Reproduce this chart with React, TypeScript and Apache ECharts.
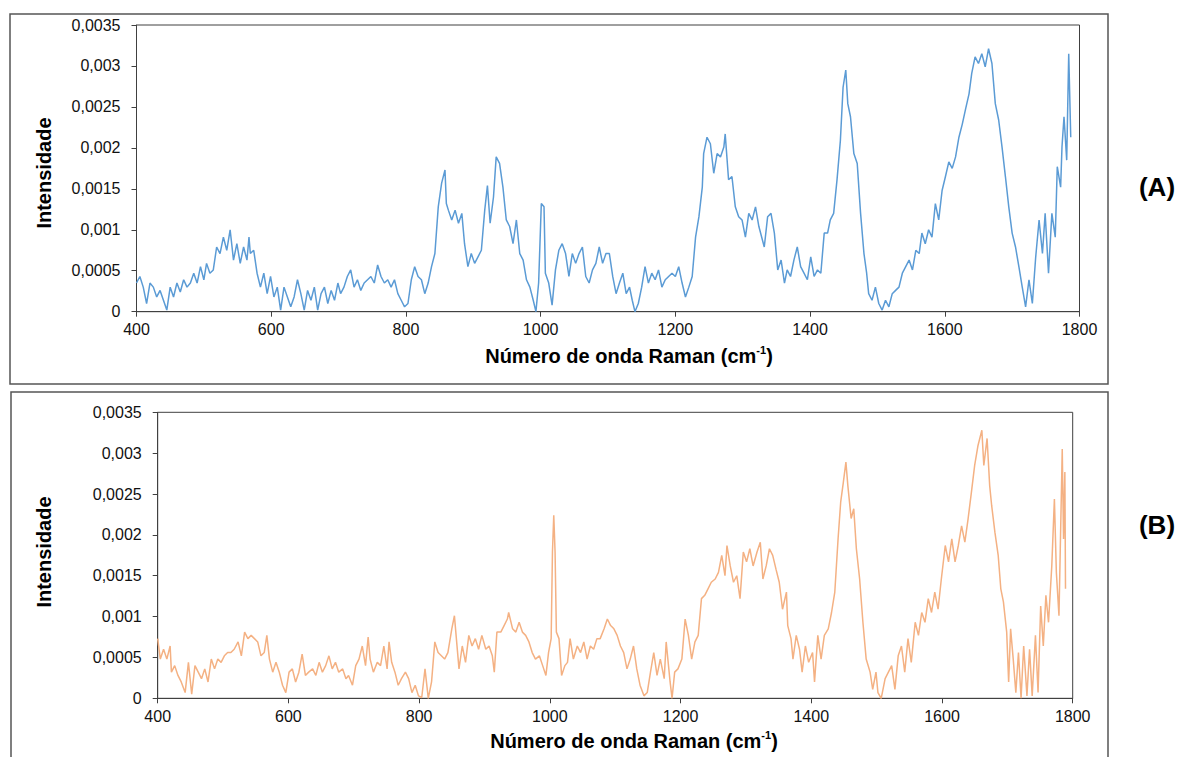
import React, { useEffect, useRef } from "react";
import * as echarts from "echarts";

// Intensity values are listed in units of 1e-4 (e.g. 3.5 => 0.00035)
const spectrumA: [number, number][] = [
  [400,3.5],[405,4.3],[410,3.0],[415,1.0],[420,3.5],[425,3.0],[430,1.8],[435,2.6],[440,1.4],[445,0.2],[450,3.0],[455,1.8],[460,3.5],[465,2.4],[470,3.9],[475,3.0],[480,3.5],[485,4.7],[490,3.5],[495,5.5],[500,3.9],[504,5.9],[509,4.7],[514,5.1],[519,7.9],[524,7.1],[529,9.1],[534,7.5],[539,10.0],[544,6.3],[549,8.3],[554,5.9],[559,7.9],[564,6.3],[567,9.1],[569,7.1],[574,7.5],[579,4.7],[584,3.0],[589,4.7],[594,2.2],[599,4.3],[604,1.8],[609,3.0],[614,0.2],[619,3.0],[624,1.8],[629,0.6],[634,1.8],[639,3.9],[644,2.2],[649,0.2],[654,2.6],[659,1.4],[664,3.0],[669,0.2],[674,2.2],[679,3.0],[684,1.0],[689,2.6],[694,1.4],[699,3.5],[703,2.2],[708,3.0],[713,4.3],[718,5.1],[723,3.0],[728,3.9],[733,2.6],[738,3.5],[743,3.9],[748,4.3],[753,3.5],[758,5.7],[763,4.3],[768,3.5],[773,3.9],[778,3.0],[783,3.9],[788,2.2],[793,1.4],[798,0.6],[803,1.0],[808,3.9],[813,5.5],[818,4.3],[823,3.9],[828,2.2],[833,3.5],[838,5.5],[843,7.1],[848,12.8],[853,15.7],[858,17.3],
  [860,13.2],[863,12.4],[868,11.2],[873,12.4],[878,10.8],[883,12.0],[887,8.3],[892,5.5],[897,7.1],[902,5.9],[907,6.7],[912,7.5],[917,12.4],[921,15.4],[925,10.8],[930,14.0],[934,18.9],[939,18.1],[944,15.2],[949,11.2],[954,10.4],[959,8.3],[964,11.2],[969,7.1],[974,6.3],[979,3.9],[984,3.0],[989,1.4],[993,0],[997,3.5],[1001,13.2],[1005,12.8],[1007,4.7],[1012,3.5],[1017,0.8],[1022,5.1],[1027,7.5],[1032,8.3],[1037,7.1],[1042,4.3],[1047,7.1],[1052,5.9],[1057,7.1],[1062,7.9],[1067,4.3],[1072,3.5],[1077,5.1],[1082,5.9],[1087,7.9],[1092,5.9],[1097,7.1],[1102,7.1],[1107,4.3],[1112,2.2],[1117,3.5],[1122,4.7],[1127,2.2],[1132,3.0],[1136,1.4],[1140,0],[1145,1.0],[1150,3.0],[1155,5.5],[1160,3.5],[1165,4.7],[1170,3.9],[1175,5.1],[1180,3.0],[1185,3.9],[1190,4.3],[1195,4.7],[1200,4.3],[1205,5.5],[1210,3.5],[1215,1.8],[1220,3.0],[1225,4.3],[1230,9.1],[1235,11.6],[1240,15.2],[1242,19.3],[1247,21.3],[1252,20.5],[1257,16.9],[1262,19.3],[1267,18.9],[1272,20.1],[1274,21.7],[1279,16.1],[1284,16.5],[1289,12.8],[1294,11.6],[1299,11.2],[1304,9.1],[1309,12.0],[1314,11.2],[1319,12.8],[1324,10.4],
  [1332,7.9],[1337,11.6],[1342,12.0],[1347,9.6],[1352,5.1],[1357,6.3],[1362,3.5],[1366,5.1],[1371,4.3],[1376,6.3],[1381,7.9],[1386,5.5],[1391,4.7],[1396,3.9],[1401,6.7],[1406,4.3],[1411,5.1],[1416,4.7],[1421,9.6],[1426,9.6],[1430,11.2],[1435,12.0],[1440,16.1],[1445,20.9],[1449,27.4],[1453,29.5],[1456,25.4],[1460,23.8],[1465,19.3],[1470,18.1],[1475,12.0],[1480,7.1],[1484,4.7],[1487,2.2],[1492,1.4],[1497,3.0],[1502,1.0],[1507,0.2],[1512,1.4],[1517,0.6],[1522,2.2],[1527,2.6],[1532,3.0],[1537,4.7],[1542,5.5],[1547,6.3],[1552,5.1],[1557,7.5],[1562,7.1],[1566,9.6],[1571,8.3],[1576,10.0],[1581,9.1],[1586,13.2],[1591,11.2],[1596,14.8],[1601,16.5],[1606,18.3],[1611,17.5],[1616,18.9],[1621,21.3],[1626,22.9],[1631,24.8],[1636,26.6],[1640,29.1],[1645,31.1],[1650,30.3],[1655,31.5],[1660,29.9],[1665,32.1],[1670,30.3],[1675,25.4],[1680,23.4],[1685,20.1],[1690,16.5],[1695,12.8],[1700,9.6],[1705,7.9],[1710,5.5],[1715,3.0],[1720,0.6],[1725,3.9],[1730,1.0],[1735,6.7],[1740,11.2],[1745,7.1],[1749,12.0],[1754,4.7],[1759,12.0],[1764,9.1],[1767,17.7],[1772,15.2],[1774,20.1],[1777,23.8],[1781,18.5],[1784,31.5],[1787,21.3]
];

const spectrumB: [number, number][] = [
  [400,7.3],[404,4.8],[409,6.0],[414,4.8],[419,6.4],[421,3.2],[426,4.0],[431,2.8],[436,2.0],[442,0.7],[447,4.4],[452,0.5],[457,4.0],[462,3.2],[467,2.4],[472,3.6],[477,2.0],[482,4.8],[487,3.6],[492,4.8],[497,4.4],[502,5.2],[507,5.6],[512,5.6],[517,6.0],[523,6.9],[528,5.2],[533,8.1],[538,7.3],[543,7.7],[548,7.3],[553,6.9],[558,5.2],[563,5.6],[567,7.7],[571,4.8],[576,3.2],[581,4.4],[586,3.2],[591,1.6],[596,0.7],[601,3.2],[606,3.6],[611,2.0],[616,3.2],[621,5.4],[626,2.8],[631,3.2],[637,3.6],[642,2.8],[647,4.4],[652,3.2],[657,4.0],[662,5.2],[667,3.6],[672,4.4],[677,3.2],[683,3.6],[688,2.4],[692,2.8],[698,1.6],[703,4.0],[708,4.8],[713,6.4],[718,4.0],[722,7.5],[725,4.8],[730,3.2],[736,4.4],[741,4.0],[746,6.4],[751,3.6],[754,6.9],[758,4.4],[763,3.2],[768,1.6],[773,2.4],[779,3.2],[784,2.4],[789,0.7],[794,1.6],[799,0.3],[804,0.1],[809,3.6],[814,0],[819,2.0],[824,6.9],[829,5.6],[834,5.2],[839,4.8],[844,5.6],[850,8.5],[854,10.1],
  [857,7.3],[861,3.6],[866,6.4],[871,4.4],[876,7.7],[881,6.4],[886,7.3],[891,6.0],[896,7.7],[902,6.0],[907,6.4],[912,5.2],[915,3.2],[919,8.1],[925,8.1],[930,8.9],[935,9.7],[937,10.5],[943,8.5],[948,8.1],[953,9.3],[958,8.1],[963,7.7],[968,6.9],[973,5.6],[978,4.8],[984,5.2],[989,4.0],[994,2.8],[998,5.6],[1002,7.3],[1004,17.9],[1006,22.4],[1008,17.9],[1010,8.1],[1014,7.3],[1018,2.8],[1023,4.0],[1027,4.4],[1031,7.3],[1036,4.8],[1042,6.4],[1047,5.6],[1052,6.9],[1057,4.8],[1062,6.4],[1067,6.0],[1072,7.3],[1077,7.3],[1083,8.5],[1088,9.7],[1093,8.9],[1098,8.5],[1103,7.7],[1108,6.4],[1113,5.6],[1118,3.6],[1123,4.8],[1128,6.4],[1133,3.6],[1138,1.6],[1144,0.3],[1149,0.7],[1154,3.2],[1159,5.6],[1164,2.8],[1169,4.8],[1175,2.4],[1178,6.9],[1184,2.0],[1187,0],[1191,3.2],[1196,3.6],[1202,4.8],[1207,9.7],[1212,7.7],[1217,4.8],[1222,6.9],[1227,7.7],[1232,12.2],[1237,12.6],[1242,13.4],[1247,14.2],[1253,14.6],[1258,15.4],[1263,17.5],[1268,15.0],[1271,18.7],[1276,16.2],[1281,14.2],[1286,15.0],[1291,12.2],[1296,17.9],[1301,16.7],[1306,18.3],[1311,16.2],[1317,17.9],[1322,19.1],
  [1326,14.6],[1331,16.2],[1336,18.3],[1341,17.5],[1346,15.8],[1351,14.2],[1356,10.9],[1362,13.0],[1364,8.9],[1369,7.3],[1372,4.8],[1377,7.7],[1382,6.0],[1386,3.2],[1391,6.4],[1396,4.4],[1402,5.6],[1405,2.0],[1410,7.7],[1415,4.8],[1420,7.7],[1426,8.5],[1431,10.5],[1436,13.0],[1441,19.5],[1445,24.0],[1449,26.4],[1453,28.9],[1456,26.0],[1461,22.0],[1465,23.2],[1469,18.3],[1474,14.6],[1479,9.3],[1484,4.8],[1490,3.2],[1494,1.1],[1499,3.2],[1502,0.7],[1507,0],[1513,2.4],[1518,3.2],[1523,4.0],[1528,1.1],[1533,5.2],[1538,6.4],[1543,3.2],[1548,7.3],[1553,4.4],[1559,9.3],[1564,7.7],[1569,10.5],[1574,9.3],[1579,12.2],[1584,10.5],[1589,13.0],[1594,10.9],[1599,14.6],[1605,18.7],[1610,16.7],[1615,19.5],[1620,16.7],[1625,18.7],[1630,21.1],[1635,19.1],[1640,22.0],[1645,25.2],[1650,28.5],[1655,30.9],[1661,32.8],[1664,28.5],[1669,31.8],[1673,26.0],[1676,23.6],[1681,20.3],[1686,17.5],[1690,13.4],[1694,11.8],[1699,8.1],[1702,2.0],[1705,8.5],[1709,4.8],[1713,0.7],[1717,5.6],[1721,0],[1725,6.4],[1730,0.3],[1734,6.0],[1738,0.3],[1743,7.7],[1747,0.7],[1751,11.3],[1755,6.4],[1759,12.6],[1763,9.3],[1768,16.2],[1772,24.4],[1775,15.4],[1779,10.1],[1781,18.3],[1784,30.5],[1786,19.5],[1788,27.7],[1789,13.4]
];

const panelLabels = ["(A)", "(B)"];
const xAxisTitle = "Número de onda Raman (cm";
const yAxisTitle = "Intensidade";
const xMin = 400, xMax = 1800, xStep = 200;
const yMin = 0, yMax = 0.0035, yStep = 0.0005;

const FONT = "'Liberation Sans', Arial, sans-serif";
const UNIT = 1e-4;

const toData = (pts: [number, number][]) => pts.map(([x, v]) => [x, +(v * UNIT).toFixed(6)]);

const fmtY = (v: number) => (v === 0 ? "0" : String(+v.toFixed(4)).replace(".", ","));
const fmtX = (v: number) => String(Math.round(v));

function makeAxes(gridIndex: number) {
  const axisLine = { lineStyle: { color: "#404040", width: 1 } };
  return {
    x: {
      type: "value", gridIndex, min: xMin, max: xMax, interval: xStep,
      axisLine: { show: true, onZero: false, ...axisLine },
      axisTick: { show: true, length: 5, lineStyle: { color: "#404040" } },
      axisLabel: { fontSize: 16, fontFamily: FONT, color: "#111", margin: 10, formatter: fmtX },
      splitLine: { show: false },
    },
    y: {
      type: "value", gridIndex, min: yMin, max: yMax, interval: yStep,
      axisLine: { show: true, ...axisLine },
      axisTick: { show: true, length: 5, lineStyle: { color: "#404040" } },
      axisLabel: { fontSize: 16, fontFamily: FONT, color: "#111", margin: 16, formatter: fmtY },
      splitLine: { show: false },
    },
  };
}

export default function App() {
  const ref = useRef<HTMLDivElement>(null);
  useEffect(() => {
    if (!ref.current) return;
    const chart = echarts.init(ref.current, undefined, { renderer: "svg" });
    const a0 = makeAxes(0);
    const a1 = makeAxes(1);
    const titleRich = {
      a: { fontSize: 20, fontWeight: "bold", fontFamily: FONT, color: "#000", lineHeight: 24 },
      s: { fontSize: 11, fontWeight: "bold", fontFamily: FONT, color: "#000", verticalAlign: "top", lineHeight: 24 },
    };
    const xTitle = `{a|${xAxisTitle}}{s|-1}{a|)}`;
    chart.setOption({
      animation: false,
      backgroundColor: "#fff",
      grid: [
        { left: 136.5, top: 25, width: 943, height: 286.7, show: true, borderColor: "#404040", borderWidth: 1, containLabel: false },
        { left: 157.7, top: 412.3, width: 915, height: 286, show: true, borderColor: "#404040", borderWidth: 1, containLabel: false },
      ],
      xAxis: [a0.x, a1.x],
      yAxis: [a0.y, a1.y],
      series: [
        {
          type: "line", xAxisIndex: 0, yAxisIndex: 0, data: toData(spectrumA),
          showSymbol: false, symbol: "none", lineStyle: { color: "#5B9BD5", width: 1.5 }, silent: true,
        },
        {
          type: "line", xAxisIndex: 1, yAxisIndex: 1, data: toData(spectrumB),
          showSymbol: false, symbol: "none", lineStyle: { color: "#F4B183", width: 1.5 }, silent: true,
        },
      ],
      graphic: [
        { type: "rect", shape: { x: 10, y: 14, width: 1098, height: 370 }, style: { fill: "none", stroke: "#555", lineWidth: 1.5 }, silent: true },
        { type: "rect", shape: { x: 11, y: 392, width: 1097, height: 380 }, style: { fill: "none", stroke: "#555", lineWidth: 1.5 }, silent: true },
        { type: "text", x: 44, y: 173, rotation: Math.PI / 2, style: { text: yAxisTitle, font: `bold 20px ${FONT}`, fill: "#000", align: "center", verticalAlign: "middle" } },
        { type: "text", x: 44, y: 552, rotation: Math.PI / 2, style: { text: yAxisTitle, font: `bold 20px ${FONT}`, fill: "#000", align: "center", verticalAlign: "middle" } },
        { type: "text", x: 629, y: 356, style: { text: xTitle, rich: titleRich, align: "center", verticalAlign: "middle" } },
        { type: "text", x: 634, y: 741, style: { text: xTitle, rich: titleRich, align: "center", verticalAlign: "middle" } },
        { type: "text", x: 1157, y: 187, style: { text: panelLabels[0], font: `bold 26px ${FONT}`, fill: "#000", align: "center", verticalAlign: "middle" } },
        { type: "text", x: 1157, y: 525, style: { text: panelLabels[1], font: `bold 26px ${FONT}`, fill: "#000", align: "center", verticalAlign: "middle" } },
      ],
    });
    return () => chart.dispose();
  }, []);
  return <div ref={ref} style={{ position: "fixed", left: 0, top: 0, width: 1179, height: 757 }} />;
}
